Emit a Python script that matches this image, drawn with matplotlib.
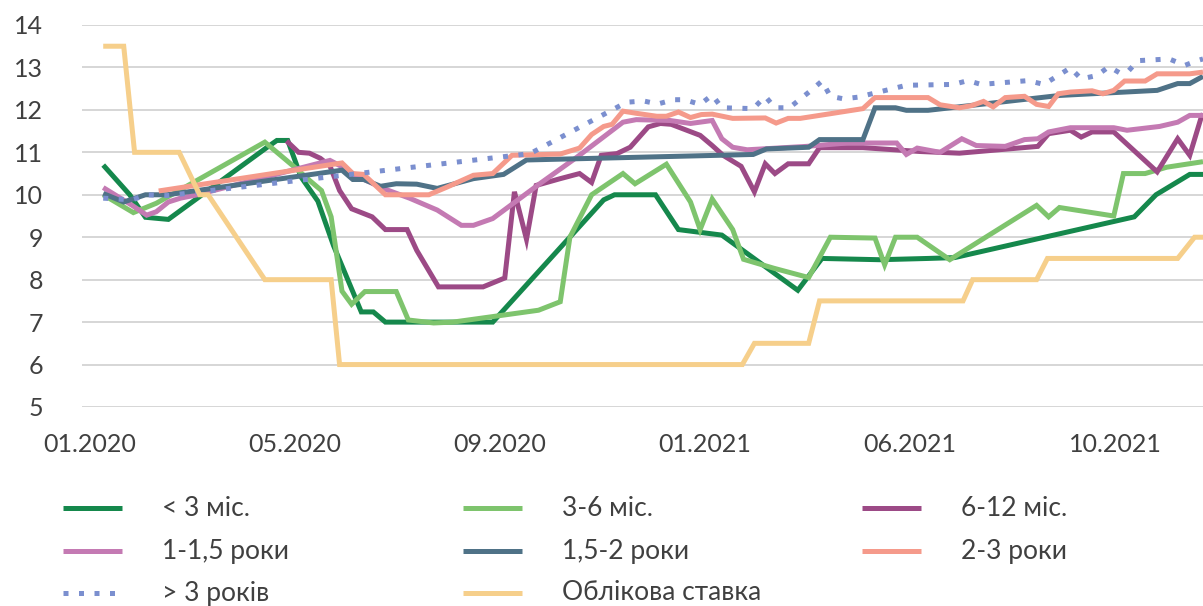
import matplotlib
matplotlib.use("Agg")
import matplotlib.pyplot as plt
from matplotlib.lines import Line2D

plt.rcParams['font.family'] = ['Lato', 'DejaVu Sans']

# x: category position (01.2020 = 0, one step ~ one week), y: %
x_lt3 = [1.1, 3.3, 4.6, 6.5, 14.6, 15.5, 16.4, 17.5, 18.9, 20.2, 22.5, 23.5, 24.5, 33.4,
         42.6, 43.5, 46.9, 48.8, 52.4, 58.7, 60.7, 65.5, 69.5, 71.7, 86.6, 88.4, 91.2, 92.3]
y_lt3 = [10.7, 10.0, 9.47, 9.42, 11.1, 11.28, 11.28, 10.42, 9.85, 8.8, 7.24, 7.24, 7.0, 7.0,
         9.88, 10.0, 10.0, 9.18, 9.05, 7.75, 8.5, 8.47, 8.5, 8.52, 9.48, 10.0, 10.48, 10.48]

x_36 = [1.1, 3.6, 5.5, 7.2, 14.5, 17.1, 18.2, 19.2, 20.0, 20.9, 21.7, 22.8, 25.4, 26.4, 28.5,
        30.1, 37.2, 39.0, 39.8, 41.6, 44.2, 45.2, 47.8, 49.8, 50.6, 51.6, 53.3, 54.2, 56.7,
        59.6, 61.4, 65.1, 65.9, 66.8, 68.6, 71.3, 78.5, 79.5, 80.4, 84.9, 85.7, 87.5, 89.3, 92.3]
y_36 = [10.0, 9.58, 9.8, 10.07, 11.24, 10.62, 10.34, 10.1, 9.48, 7.73, 7.42, 7.72, 7.72, 7.05, 6.98,
        7.0, 7.28, 7.48, 9.0, 10.0, 10.5, 10.26, 10.72, 9.83, 9.18, 9.9, 9.18, 8.48, 8.27,
        8.05, 9.0, 8.98, 8.35, 9.0, 9.0, 8.47, 9.75, 9.48, 9.7, 9.5, 10.5, 10.5, 10.65, 10.78]

x_612 = [16.3, 17.3, 18.2, 19.1, 19.9, 20.7, 21.7, 23.4, 24.5, 26.3, 27.1, 28.9, 32.6, 34.4,
         35.2, 36.2, 37.0, 39.0, 40.6, 41.6, 42.4, 43.7, 44.8, 46.3, 47.3, 48.2, 50.6, 51.6,
         52.5, 54.0, 55.1, 56.0, 56.8, 57.9, 59.6, 60.5, 64.1, 68.8, 72.1, 78.6, 79.5, 81.3,
         82.2, 83.1, 84.9, 88.5, 90.2, 91.2, 92.2, 92.3]
y_612 = [11.27, 11.0, 10.98, 10.86, 10.68, 10.1, 9.67, 9.48, 9.18, 9.18, 8.69, 7.83, 7.83, 8.04,
         10.07, 8.95, 10.22, 10.38, 10.5, 10.29, 10.93, 10.97, 11.12, 11.6, 11.68, 11.66, 11.4, 11.16,
         10.93, 10.67, 10.07, 10.73, 10.5, 10.73, 10.73, 11.11, 11.11, 11.02, 10.98, 11.14, 11.44, 11.52,
         11.36, 11.48, 11.48, 10.54, 11.32, 10.93, 11.87, 11.9]

x_1_15 = [1.1, 3.5, 4.7, 5.5, 6.5, 7.5, 8.9, 19.9, 20.7, 22.0, 24.3, 26.5, 28.8, 30.8, 31.8,
          33.4, 37.3, 40.4, 44.2, 45.3, 48.1, 49.8, 51.6, 52.4, 53.3, 54.5, 59.4, 62.8, 66.9,
          67.7, 68.6, 70.5, 72.3, 73.5, 75.9, 77.5, 78.6, 79.5, 81.3, 84.9, 86.0, 88.7, 90.2, 91.2, 92.3]
y_1_15 = [10.17, 9.75, 9.52, 9.6, 9.83, 9.92, 10.0, 10.81, 10.69, 10.46, 10.15, 9.92, 9.64, 9.28, 9.28,
          9.44, 10.26, 10.89, 11.71, 11.77, 11.75, 11.68, 11.75, 11.32, 11.12, 11.06, 11.14, 11.22, 11.22,
          10.95, 11.1, 11.0, 11.32, 11.16, 11.14, 11.3, 11.32, 11.48, 11.58, 11.58, 11.52, 11.61, 11.71, 11.87, 11.87]

x_15_2 = [1.1, 2.8, 4.6, 6.4, 20.9, 21.8, 22.7, 24.1, 25.4, 27.1, 28.8, 31.8, 34.3, 36.2,
          55.0, 56.1, 59.6, 60.5, 64.1, 65.1, 66.8, 67.7, 69.5, 80.4, 88.5, 90.2, 91.2, 92.3]
y_15_2 = [10.03, 9.83, 10.0, 10.0, 10.58, 10.36, 10.36, 10.2, 10.26, 10.25, 10.15, 10.38, 10.48, 10.82,
          10.95, 11.08, 11.12, 11.3, 11.3, 12.05, 12.05, 11.99, 11.99, 12.34, 12.46, 12.62, 12.62, 12.79]

x_2_3 = [5.7, 20.9, 21.8, 22.7, 24.5, 28.1, 29.6, 31.8, 33.4, 35.0, 39.0, 40.6, 41.6, 42.6, 43.3,
         44.2, 45.3, 47.0, 47.8, 48.8, 49.8, 50.7, 51.6, 53.3, 56.0, 56.9, 57.9, 58.9, 61.4, 64.1,
         65.1, 69.5, 70.5, 72.1, 73.1, 74.1, 74.9, 75.9, 77.5, 78.5, 79.5, 80.3, 81.3, 83.1, 84.0,
         84.9, 85.8, 87.5, 88.5, 91.2, 92.3]
y_2_3 = [10.09, 10.75, 10.5, 10.48, 10.0, 10.0, 10.18, 10.46, 10.5, 10.93, 10.96, 11.1, 11.42, 11.61, 11.66,
         11.97, 11.92, 11.85, 11.85, 11.95, 11.82, 11.89, 11.9, 11.8, 11.81, 11.69, 11.8, 11.8, 11.91, 12.03,
         12.29, 12.29, 12.12, 12.05, 12.1, 12.2, 12.07, 12.29, 12.32, 12.13, 12.08, 12.38, 12.42, 12.45, 12.38,
         12.46, 12.68, 12.68, 12.85, 12.85, 12.89]

x_gt3 = [1.1, 3.5, 4.7, 6.4, 36.5, 44.5, 45.9, 47.1, 48.4, 49.3, 50.6, 51.6, 52.4, 55.0, 56.0,
         56.8, 58.0, 59.8, 60.7, 61.4, 62.5, 63.7, 67.7, 71.6, 72.8, 73.9, 77.8, 79.1, 81.3,
         82.2, 83.5, 84.5, 85.4, 86.1, 86.9, 89.5, 90.8, 91.8, 92.3]
y_gt3 = [9.92, 9.88, 10.0, 9.98, 10.97, 12.18, 12.21, 12.14, 12.24, 12.24, 12.13, 12.35, 12.05, 12.03, 12.32,
         12.05, 12.05, 12.46, 12.68, 12.32, 12.26, 12.3, 12.58, 12.6, 12.69, 12.6, 12.69, 12.6, 12.99,
         12.73, 12.81, 13.02, 12.87, 12.91, 13.16, 13.2, 13.05, 13.16, 13.2]

x_rate = [1.1, 2.8, 3.7, 7.4, 9.1, 9.8, 14.5, 20.0, 20.7, 54.1, 55.1, 59.6, 60.5, 72.4, 73.2,
          78.5, 79.4, 90.2, 91.6, 92.3]
y_rate = [13.5, 13.5, 11.0, 11.0, 10.0, 10.0, 8.0, 8.0, 6.0, 6.0, 6.5, 6.5, 7.5, 7.5, 8.0,
          8.0, 8.5, 8.5, 9.0, 9.0]

tick_pos = [0, 17, 34, 51, 68, 85]
tick_labels = ['01.2020', '05.2020', '09.2020', '01.2021', '06.2021', '10.2021']

series = [
    ('< 3 міс.', x_lt3, y_lt3, '#15884c', '-'),
    ('3-6 міс.', x_36, y_36, '#7ec46d', '-'),
    ('6-12 міс.', x_612, y_612, '#9c4a86', '-'),
    ('1-1,5 роки', x_1_15, y_1_15, '#c47ab3', '-'),
    ('1,5-2 роки', x_15_2, y_15_2, '#4f7287', '-'),
    ('2-3 роки', x_2_3, y_2_3, '#f59a8b', '-'),
    ('> 3 років', x_gt3, y_gt3, '#7b8fcf', (0, (1, 2.1))),
    ('Облікова ставка', x_rate, y_rate, '#f6cf8b', '-'),
]

fig = plt.figure(figsize=(12.03, 6.06), dpi=100)
ax = fig.add_axes([82 / 1203, 1 - 407 / 606, 1 - 82 / 1203, (407 - 25) / 606])

lw = 3.6
for name, xs, ys, col, ls in series:
    ax.plot(xs, ys, color=col, lw=lw, ls=ls, solid_joinstyle='miter',
            solid_capstyle='butt', dash_capstyle='butt')

ax.set_ylim(5, 14)
ax.set_xlim(-0.66, 92.3)
ax.set_yticks(range(5, 15))
ax.set_xticks(tick_pos)
ax.set_xticklabels(tick_labels)
ax.grid(axis='y', color='#cfcfcf', lw=1.2)
ax.set_axisbelow(True)
for s in ax.spines.values():
    s.set_visible(False)
ax.tick_params(axis='both', length=0, labelsize=18, labelcolor='#404040')
ax.tick_params(axis='y', pad=28)
ax.tick_params(axis='x', pad=19)

# legend, row by row like the original
col_x = [63, 463, 862]
row_y = [508, 551, 593]
W, H = 1203, 606
for i, (name, xs, ys, col, ls) in enumerate(series):
    r, c = divmod(i, 3)
    x0 = col_x[c]
    y0 = row_y[r]
    fig.add_artist(Line2D([x0 / W, (x0 + 59) / W], [1 - y0 / H, 1 - y0 / H],
                          transform=fig.transFigure, color=col, lw=lw, ls=ls,
                          solid_capstyle='butt', dash_capstyle='butt'))
    fig.text((x0 + 99) / W, 1 - y0 / H, name, fontsize=19, color='#404040',
             va='center', ha='left')

fig.savefig('out.png', dpi=100)
